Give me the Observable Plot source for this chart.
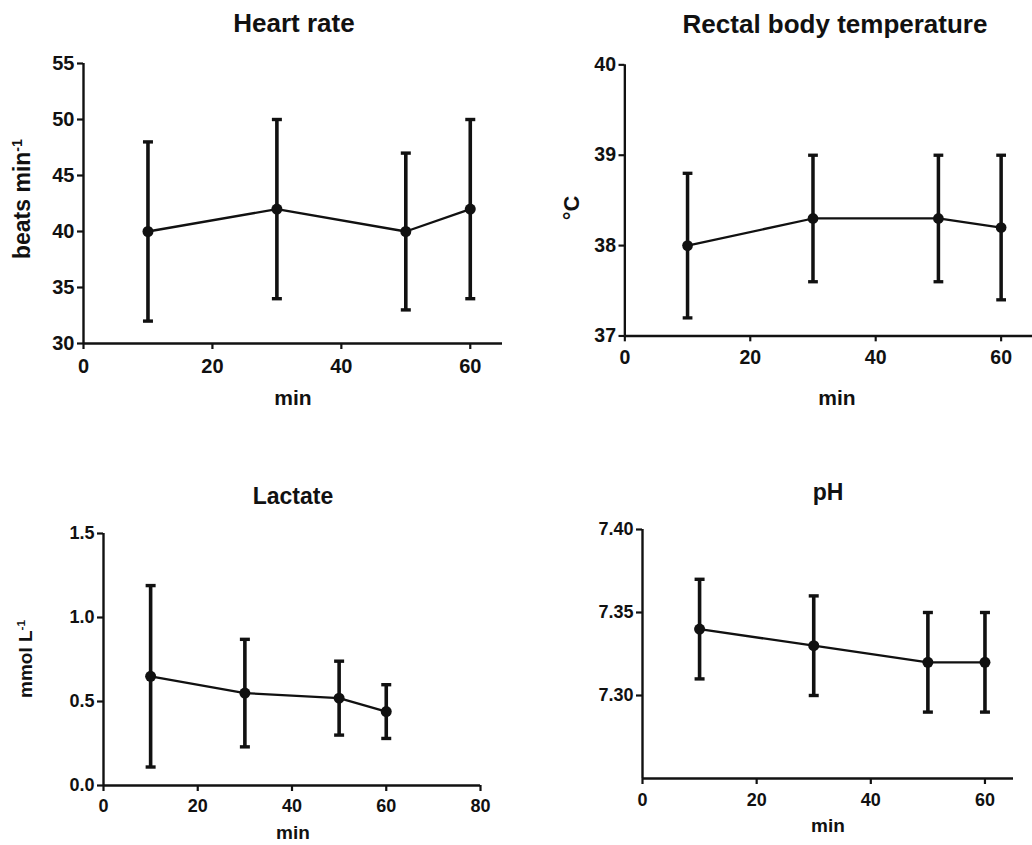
<!DOCTYPE html>
<html>
<head>
<meta charset="utf-8">
<script src="https://cdn.jsdelivr.net/npm/d3@7"></script>
<script src="https://cdn.jsdelivr.net/npm/@observablehq/plot@0.6"></script>
<style>
  html, body { margin: 0; padding: 0; background: #fff; overflow: hidden; }
  #root { position: relative; width: 1032px; height: 845px; overflow: hidden;
          font-family: "Liberation Sans", Arial, Helvetica, sans-serif; color: #111; }
  .panel { position: absolute; }
  .title, .xlab { position: absolute; transform: translate(-50%, -50%); font-weight: bold; white-space: nowrap; line-height: 1; }
  .ylab { position: absolute; transform: translate(-50%, -50%) rotate(-90deg); font-weight: bold; white-space: nowrap; line-height: 1; }
  .ylab sup { font-size: 0.62em; vertical-align: 0.55em; line-height: 0; }
</style>
</head>
<body>
<div id="root"></div>
<script>
// ---- data ----
const times = [10, 30, 50, 60];

const heartMean = [40, 42, 40, 42];
const heartLow  = [32, 34, 33, 34];
const heartHigh = [48, 50, 47, 50];

const tempMean = [38.0, 38.3, 38.3, 38.2];
const tempLow  = [37.2, 37.6, 37.6, 37.4];
const tempHigh = [38.8, 39.0, 39.0, 39.0];

const lactateMean = [0.65, 0.55, 0.52, 0.44];
const lactateLow  = [0.11, 0.23, 0.30, 0.28];
const lactateHigh = [1.19, 0.87, 0.74, 0.60];

const phMean = [7.34, 7.33, 7.32, 7.32];
const phLow  = [7.31, 7.30, 7.29, 7.29];
const phHigh = [7.37, 7.36, 7.35, 7.35];

const xTicks60 = [0, 20, 40, 60];
const xTicks80 = [0, 20, 40, 60, 80];
const heartTicks = [30, 35, 40, 45, 50, 55];
const tempTicks = [37, 38, 39, 40];
const lactateTicks = [0, 0.5, 1.0, 1.5];
const phTicks = [7.30, 7.35, 7.40];

// ---- helpers ----
const root = document.getElementById("root");

const capSymbol = {
  draw(context, size) {
    const w = Math.sqrt(size / Math.PI);
    context.moveTo(-w, 0);
    context.lineTo(w, 0);
  }
};

function rows(m, lo, hi) {
  return times.map((t, i) => ({t, m: m[i], lo: lo[i], hi: hi[i]}));
}

function addText(cls, x, y, size, html) {
  const el = document.createElement("div");
  el.className = cls;
  el.style.left = x + "px";
  el.style.top = y + "px";
  el.style.fontSize = size + "px";
  el.innerHTML = html;
  root.appendChild(el);
}

function panel(cfg) {
  const data = rows(cfg.mean, cfg.low, cfg.high);
  const font = '"Liberation Sans", Arial, sans-serif';
  const chart = Plot.plot({
    width: cfg.width,
    height: cfg.height,
    marginLeft: cfg.ml, marginRight: cfg.mr, marginTop: cfg.mt, marginBottom: cfg.mb,
    style: {fontFamily: font, fontWeight: "bold", fontSize: cfg.tickFont + "px", color: "#111", background: "transparent", overflow: "visible"},
    x: {domain: cfg.xDomain},
    y: {domain: cfg.yDomain},
    marks: [
      Plot.axisY({ticks: cfg.yTicks, tickSize: 6, tickPadding: 3, strokeWidth: 2.2, tickFormat: cfg.yFormat, label: null,
                  fontSize: cfg.tickFont, fontWeight: "bold", fontFamily: font}),
      Plot.axisX({ticks: cfg.xTicks, tickSize: 6, tickPadding: cfg.xPad, strokeWidth: 2.2, tickFormat: d3.format("d"),
                  label: null, fontSize: cfg.tickFont, fontWeight: "bold", fontFamily: font}),
      Plot.ruleX([cfg.xDomain[0]], {strokeWidth: 2.4, stroke: "#111"}),
      Plot.ruleY([cfg.yDomain[0]], {strokeWidth: 2.4, stroke: "#111"}),
      Plot.ruleX(data, {x: "t", y1: "lo", y2: "hi", strokeWidth: 3.6, stroke: "#111"}),
      Plot.dot(data, {x: "t", y: "hi", symbol: capSymbol, r: 5, fill: "none", stroke: "#111", strokeWidth: 3.4}),
      Plot.dot(data, {x: "t", y: "lo", symbol: capSymbol, r: 5, fill: "none", stroke: "#111", strokeWidth: 3.4}),
      Plot.line(data, {x: "t", y: "m", strokeWidth: 2.3, stroke: "#111"}),
      Plot.dot(data, {x: "t", y: "m", r: 5.5, fill: "#111", stroke: "none"})
    ]
  });
  const wrap = document.createElement("div");
  wrap.className = "panel";
  wrap.style.left = cfg.left + "px";
  wrap.style.top = cfg.top + "px";
  wrap.appendChild(chart);
  root.appendChild(wrap);

  addText("title", cfg.titleX, cfg.titleY, cfg.titleFont, cfg.title);
  addText("xlab", cfg.xLabelX, cfg.xLabelY, cfg.labelFont, "min");
  if (cfg.yLabel) addText("ylab", cfg.yLabelX, cfg.yLabelY, cfg.yLabelFont, cfg.yLabel);
}

panel({
  left: 0, top: 0, width: 516, height: 420, ml: 83, mr: 14, mt: 63, mb: 77,
  xDomain: [0, 65], yDomain: [30, 55], xTicks: xTicks60, yTicks: heartTicks, yFormat: d3.format("d"),
  mean: heartMean, low: heartLow, high: heartHigh,
  tickFont: 20, labelFont: 21, xPad: 9, xLabelX: 293, xLabelY: 397,
  title: "Heart rate", titleX: 294, titleY: 23, titleFont: 26,
  yLabel: "beats min<sup>-1</sup>", yLabelX: 22, yLabelY: 199, yLabelFont: 23
});

panel({
  left: 520, top: 0, width: 525, height: 420, ml: 107, mr: 0, mt: 66, mb: 76,
  xDomain: [0, 65], yDomain: [37, 40], xTicks: xTicks60, yTicks: tempTicks, yFormat: d3.format("d"),
  mean: tempMean, low: tempLow, high: tempHigh,
  tickFont: 20, labelFont: 21, xPad: 9, xLabelX: 837, xLabelY: 397,
  title: "Rectal body temperature", titleX: 835, titleY: 24, titleFont: 26,
  yLabel: "°C", yLabelX: 572, yLabelY: 208, yLabelFont: 22
});

panel({
  left: 0, top: 420, width: 516, height: 425, ml: 103, mr: 36, mt: 113, mb: 60,
  xDomain: [0, 80], yDomain: [0, 1.5], xTicks: xTicks80, yTicks: lactateTicks, yFormat: d3.format(".1f"),
  mean: lactateMean, low: lactateLow, high: lactateHigh,
  tickFont: 18, labelFont: 19, xPad: 8, xLabelX: 293, xLabelY: 832,
  title: "Lactate", titleX: 293, titleY: 496, titleFont: 23,
  yLabel: "mmol L<sup>-1</sup>", yLabelX: 25, yLabelY: 659, yLabelFont: 19
});

panel({
  left: 520, top: 420, width: 512, height: 425, ml: 122, mr: 19, mt: 109, mb: 67,
  xDomain: [0, 65], yDomain: [7.25, 7.40], xTicks: xTicks60, yTicks: phTicks, yFormat: d3.format(".2f"),
  mean: phMean, low: phLow, high: phHigh,
  tickFont: 18, labelFont: 19, xPad: 9, xLabelX: 828, xLabelY: 825,
  title: "pH", titleX: 828, titleY: 492, titleFont: 23,
  yLabel: null
});
</script>
</body>
</html>
